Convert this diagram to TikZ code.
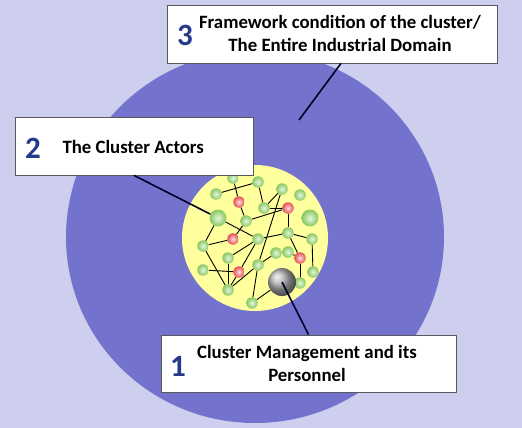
\documentclass[tikz,border=0pt]{standalone}
\usepackage{fontspec}
\setmainfont{Carlito}
\usetikzlibrary{positioning}
\definecolor{bgblue}{RGB}{206,206,238}
\definecolor{domainblue}{RGB}{115,115,205}
\definecolor{coreyellow}{RGB}{255,255,158}
\definecolor{numblue}{RGB}{38,58,140}
\definecolor{actorgreen}{RGB}{135,200,95}
\definecolor{keyred}{RGB}{230,80,85}
\tikzset{
  x=1pt, y=-1pt,
  box/.style={draw=gray!70!black, fill=white, line width=0.8pt, minimum height=58pt},
  num/.style={font=\fontsize{31}{31}\selectfont\bfseries, text=numblue},
  lbl/.style={font=\fontsize{18.8}{23}\selectfont\bfseries, align=center},
  lead/.style={line width=1.6pt, draw=black!85!blue},
  act/.style={circle, inner sep=0pt, minimum size=11.5pt, inner color=actorgreen!20, outer color=actorgreen},
  bigact/.style={act, minimum size=17pt},
  key/.style={circle, inner sep=0pt, minimum size=11.5pt, inner color=keyred!20, outer color=keyred},
  mgr/.style={circle, inner sep=0pt, minimum size=28pt, ball color=gray!60},
  link/.style={line width=0.9pt},
}

\begin{document}
\begin{tikzpicture}
		% background, domain and cluster
		\useasboundingbox (0,0) rectangle (522,428);
		\fill[bgblue] (0,0) rectangle (522,428);
		\fill[domainblue] (255,237) ellipse [x radius=189pt, y radius=186pt];
		\fill[coreyellow] (255,238) circle [radius=73pt];
		\coordinate (d3) at (299,120);

		% actors
		\node[act] (a1) at (233,178) {};
		\node[act] (a2) at (258,182) {};
		\node[act] (a3) at (216,194) {};
		\node[act] (a4) at (282,189) {};
		\node[act] (a5) at (300,195) {};
		\node[act] (a6) at (264,208) {};
		\node[bigact] (a7) at (218,218) {};
		\node[act] (a8) at (246,221) {};
		\node[bigact] (a9) at (310,218) {};
		\node[act] (a10) at (258,239) {};
		\node[act] (a11) at (288,233) {};
		\node[act] (a12) at (203,246) {};
		\node[act] (a13) at (312,239) {};
		\node[act] (a14) at (228,258) {};
		\node[act] (a15) at (276,253) {};
		\node[act] (a16) at (288,252) {};
		\node[act] (a17) at (203,270) {};
		\node[act] (a18) at (258,265) {};
		\node[act] (a19) at (313,272) {};
		\node[act] (a20) at (300,283) {};
		\node[act] (a21) at (228,290) {};
		\node[act] (a22) at (252,303) {};
		\node[key] (r1) at (239,202) {};
		\node[key] (r2) at (288,208) {};
		\node[key] (r3) at (233,239) {};
		\node[key] (r4) at (300,258) {};
		\node[key] (r5) at (239,272) {};
		\node[mgr] (mg) at (282,282) {};

		% links
		\draw[link] (a1) edge (r1)
		(a3) edge (a2)
		(a2) edge (a6)
		(r1) edge (a8)
		(a4) edge (a6)
		(a6) edge (r2)
		(r2) edge (a11)
		(a8) edge (r2)
		(a7) edge (a10)
		(a7) edge (a12)
		(a8) edge (r3)
		(r3) edge (a12)
		(a10) edge (a11)
		(a11) edge (a13)
		(a13) edge (a19)
		(a11) edge (r4)
		(r4) edge (a20)
		(a4) edge (a18)
		(a12) edge (a21)
		(a17) edge (r5)
		(r5) edge (a21)
		(a14) edge (a21)
		(a18) edge (a21)
		(a18) edge (a22)
		(a22) edge (mg)
		(a15) edge (a18)
		(a10) edge (r5)
		(a14) edge (a10)
		(a16) edge (r4);

		% labels
		\node[box, minimum width=330pt] (b3) at (332,34) {};
		\node[lbl] (t3) at (340,33) {Framework condition of the cluster/\\The Entire Industrial Domain};
		\node[num] (n3) at (185,35) {3};
		\node[box, minimum width=238pt] (b2) at (134,146) {};
		\node[lbl, anchor=west] (t2) at (59,147) {The Cluster Actors};
		\node[num] (n2) at (33,148) {2};
		\node[box, minimum width=295pt, minimum height=57pt] (b1) at (308.5,363.5) {};
		\node[lbl] (t1) at (307,363) {Cluster Management and its\\Personnel};
		\node[num] (n1) at (178,366) {1};

		% leads
		\draw[lead] ([xshift=9pt]b3.south) -- (d3);
		\draw[lead] (b2.south) -- (a7);
		\draw[lead] (mg.center) -- (b1.north);

	\end{tikzpicture}
\end{document}
